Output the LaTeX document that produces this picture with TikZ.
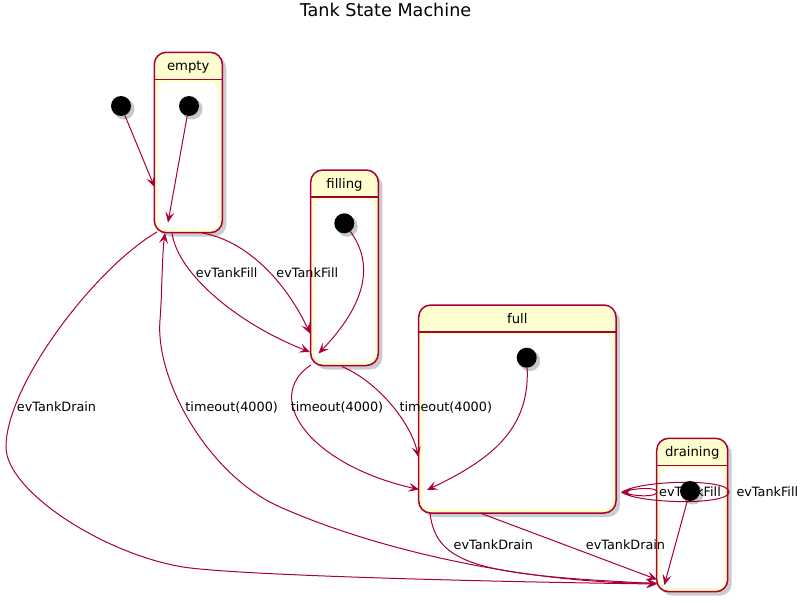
\documentclass[tikz,border=0pt]{standalone}
\usepackage{fontspec}
\setmainfont{DejaVu Sans}
\usetikzlibrary{arrows.meta,calc}
\definecolor{pumlred}{HTML}{A80036}
\definecolor{pumlfill}{HTML}{FEFECE}
\tikzset{
  conn/.style={draw=pumlred, line width=1pt, -{Stealth[length=10.5pt,width=9pt,inset=4.5pt]}},
  plainconn/.style={draw=pumlred, line width=1pt},
  lbl/.style={anchor=base, inner sep=0pt, font=\fontsize{12.8}{15}\selectfont},
  stname/.style={anchor=base, inner sep=0pt, font=\fontsize{13.2}{15}\selectfont},
  ttl/.style={anchor=base, inner sep=0pt, font=\fontsize{17.6}{20}\selectfont},
  initdot/.style={circle, fill=black, minimum size=20pt, inner sep=0pt},
  dotshadow/.style={circle, fill=black, opacity=0.22, minimum size=21pt, inner sep=0pt},
  boxshadow/.style={fill=black, opacity=0.2, rounded corners=12pt},
  boxouter/.style={draw=pumlred, fill=pumlfill, line width=1.5pt, rounded corners=12pt},
  boxinner/.style={fill=white, rounded corners=7pt},
  boxsep/.style={draw=pumlred, line width=1.3pt},
}
\newcommand\mkstate[6]{%
  \fill[boxshadow] (#2+4,#3+4) rectangle (#4+4,#5+4);
  \draw[boxouter] (#2,#3) rectangle (#4,#5);
  \fill[boxinner] (#2+4,#3+30) rectangle (#4-4,#5-4);
  \draw[boxsep] (#2,#3+27) -- (#4,#3+27);
  \node[stname] (#1-name) at ({(#2+#4)/2},#3+18) {#6};
}
\newcommand\mkdot[3]{%
  \node[dotshadow] at (#2+3,#3+3) {};
  \node[initdot] (#1) at (#2,#3) {};
}
\begin{document}
\begin{tikzpicture}[x=1pt,y=-1pt]
\useasboundingbox (0,0) rectangle (808,602);

% title
\node[ttl] (title) at (385.5,16.7) {Tank State Machine};

% states
\mkstate{empty}{154.3}{52.3}{222.3}{232.7}{empty}
\mkstate{filling}{310.7}{170}{378.3}{365.5}{filling}
\mkstate{full}{418.7}{305}{616}{513}{full}
\mkstate{draining}{656.7}{438.3}{727.7}{591.7}{draining}

% initial dot anchors (visible dots drawn later, on top)
\node[initdot, opacity=0] (init0) at (121,106) {};
\node[initdot, opacity=0] (einit) at (189,106) {};
\node[initdot, opacity=0] (finit) at (344.3,223.3) {};
\node[initdot, opacity=0] (fullinit) at (526.7,357.7) {};
\node[initdot, opacity=0] (dinit) at (690,491) {};

% connector end points
\coordinate (emptyL) at (154.5,187);
\coordinate (emptyIn) at (168,222.5);
\coordinate (emptyB1) at (172,233);
\coordinate (emptyB2) at (202,233);
\coordinate (emptyB0) at (157,232);
\coordinate (emptyB3) at (165,233);
\coordinate (fillA) at (310,352);
\coordinate (fillB) at (310,333.5);
\coordinate (fillIn) at (318.5,353.5);
\coordinate (fillB1) at (310.7,365);
\coordinate (fillB2) at (341.7,366.5);
\coordinate (fullA) at (419,489.5);
\coordinate (fullB) at (418.5,457);
\coordinate (fullIn) at (427,490);
\coordinate (fullB1) at (430,513);
\coordinate (fullB2) at (480,513);
\coordinate (fullR) at (621.7,492.3);
\coordinate (drA) at (657,584);
\coordinate (drB) at (657,583);
\coordinate (drC) at (657,583.5);
\coordinate (drD) at (657,579.5);
\coordinate (drIn) at (664.3,585);
\coordinate (drS) at (657,492);
\coordinate (drR) at (729,492);

% initial transitions
\draw[conn] (init0) -- (emptyL);
\draw[conn] (einit) -- (emptyIn);
\draw[conn] (finit) .. controls (375,265) and (365,305) .. (fillIn);
\draw[conn] (fullinit) .. controls (530,430) and (490,460) .. (fullIn);
\draw[conn] (dinit) -- (drIn);

% empty -> filling
\draw[conn] (emptyB1) .. controls (178,275) and (240,325) .. (fillA);
\draw[conn] (emptyB2) .. controls (245,240) and (285,280) .. (fillB);

% filling -> full
\draw[conn] (fillB1) .. controls (262,398) and (310,465) .. (fullA);
\draw[conn] (fillB2) .. controls (375,380) and (410,420) .. (fullB);

% empty -> draining
\draw[conn] (emptyB0) .. controls (95,268) and (6,385) .. (6,447)
  .. controls (6,490) and (100,552) .. (180,566.5)
  .. controls (230,575.5) and (500,582) .. (drA);

% draining -> empty
\draw[conn] (drB) .. controls (560,585) and (400,560) .. (280,507)
  .. controls (208,475) and (155,380) .. (160,320)
  .. controls (162,296) and (162,255) .. (emptyB3);

% full -> draining
\draw[conn] (fullB1) .. controls (436,565) and (480,575) .. (drC);
\draw[conn] (fullB2) -- (drD);

% draining -> full (loops)
\draw[plainconn] (fullR) .. controls (636,487.5) and (657,487) .. (drS)
  .. controls (657,497) and (636,497) .. (fullR);
\draw[plainconn] (fullR) .. controls (640,480) and (729,478) .. (drR)
  .. controls (729,505.5) and (640,504) .. (fullR);
\draw[conn] ($(fullR)+(6,0)$) -- (fullR);

% labels
\node[lbl] (l1) at (226.7,277.3) {evTankFill};
\node[lbl] (l2) at (307.3,277.3) {evTankFill};
\node[lbl] (l3) at (231.7,411) {timeout(4000)};
\node[lbl] (l4) at (337,411) {timeout(4000)};
\node[lbl] (l5) at (445.8,411) {timeout(4000)};
\node[lbl] (l6) at (56.5,411.5) {evTankDrain};
\node[lbl] (l7) at (493.3,549.3) {evTankDrain};
\node[lbl] (l8) at (625.5,549.3) {evTankDrain};
\node[lbl] (l9) at (690,496.7) {evTankFill};
\node[lbl] (l10) at (767.3,496.7) {evTankFill};

% initial dots on top
\mkdot{d0}{121}{106}
\mkdot{d1}{189}{106}
\mkdot{d2}{344.3}{223.3}
\mkdot{d3}{526.7}{357.7}
\mkdot{d4}{690}{491}
\end{tikzpicture}
\end{document}
